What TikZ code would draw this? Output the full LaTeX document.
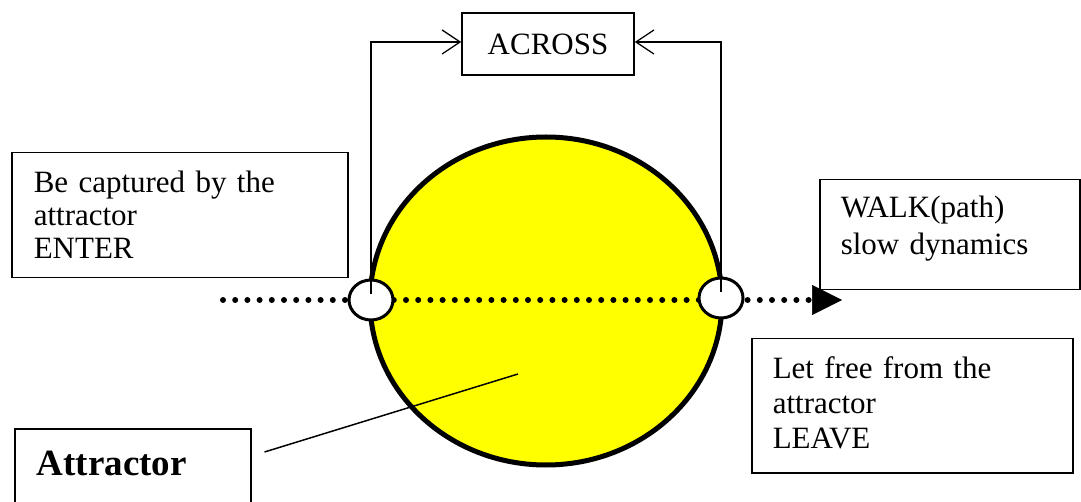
\documentclass[tikz,border=0pt]{standalone}
\usepackage{fontspec}
\setmainfont{Liberation Serif}
\usetikzlibrary{arrows.meta,shapes.geometric}
\definecolor{attrYellow}{RGB}{255,255,0}
\begin{document}
\begin{tikzpicture}[x=1pt,y=-1pt,
  box/.style={draw, line width=1.5pt, rectangle, inner ysep=0pt, inner xsep=21pt,
    align=left, anchor=north west},
  txt/.style={font=\fontsize{31}{#1}\selectfont},
  marker/.style={draw, ellipse, fill=white, line width=3pt, minimum width=44pt,
    minimum height=40pt, inner sep=0pt},
  conn/.style={line width=1.4pt, -{Straight Barb[length=18pt,width=24pt,line width=1.3pt]}},
  dotline/.style={line width=6pt, dash pattern=on 0pt off 12.2pt, line cap=round,
    -{Triangle[length=30pt,width=30pt,line width=0.5pt]}},
  pointer/.style={line width=1.5pt}]
\useasboundingbox (0,0) rectangle (1081,502);
\clip (0,0) rectangle (1081,502);

% big attractor ellipse
\node[draw, ellipse, fill=attrYellow, line width=5pt, minimum width=352pt,
  minimum height=328pt, inner sep=0pt] (big) at (546,301) {};

% dotted path with arrow
\coordinate (dstart) at (223,300);
\coordinate (dend) at (842,300);
\draw[dotline] (dstart) -- (dend);

% entry / exit markers
\node[marker] (lm) at (371,300) {};
\node[marker] (rm) at (721,298) {};

% ACROSS box
\node[draw, line width=1.5pt, minimum width=172pt, minimum height=62pt, inner sep=0pt,
  txt=35] (across) at (548,44) {ACROSS};

\draw[conn] ([yshift=6pt]lm.center) |- ([yshift=2pt]across.west);
\draw[conn] ([yshift=6pt]rm.center) |- ([yshift=2pt]across.east);

% text boxes
\node[box, inner xsep=22pt, text width=292pt, minimum height=125pt, txt=33] (enter) at (11,152)
  {\rule{0pt}{29pt}Be captured by the\\attractor\\\rule[-8pt]{0pt}{8pt}ENTER};

\node[box, text width=218pt, minimum height=110pt, txt=37] (walk) at (819,179)
  {\rule{0pt}{23pt}WALK(path)\\\rule[-20pt]{0pt}{20pt}slow dynamics};

\node[box, text width=279pt, minimum height=134pt, txt=35] (leave) at (751,338)
  {\rule{0pt}{24pt}Let free from the\\attractor\\\rule[-8pt]{0pt}{8pt}LEAVE};

\node[box, inner xsep=22pt, text width=192pt, minimum height=92pt,
  font=\fontsize{37}{40}\selectfont\bfseries] (attr) at (14,428)
  {\rule{0pt}{30pt}\rule[-28pt]{0pt}{28pt}Attractor};

% pointer from label into the attractor
\coordinate (ptip) at (518,374);
\draw[pointer] ([shift={(13pt,-24pt)}]attr.north east) -- (ptip);
\end{tikzpicture}
\end{document}
